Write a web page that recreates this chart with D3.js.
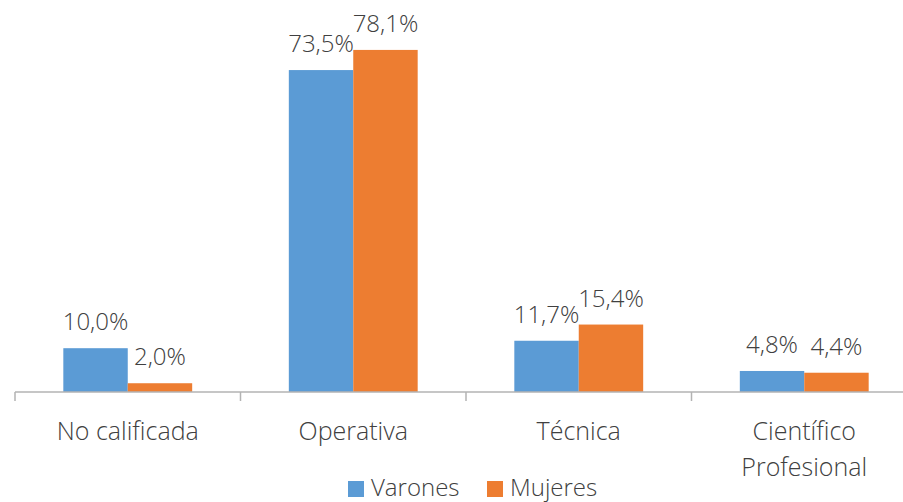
<!DOCTYPE html>
<html>
<head>
<meta charset="utf-8">
<script src="https://cdn.jsdelivr.net/npm/d3@7"></script>
<style>
  html, body { margin: 0; padding: 0; background: #fff; }
  svg text { font-family: "Open Sans", "Noto Sans", sans-serif; font-weight: 300; fill: #404040; }
</style>
</head>
<body>
<svg id="chart" width="903" height="502"></svg>
<script>
const categories = ["No calificada", "Operativa", "Técnica", "Científico Profesional"];
const categoryLines = [["No calificada"], ["Operativa"], ["Técnica"], ["Científico", "Profesional"]];
const seriesNames = ["Varones", "Mujeres"];
const varones = [10.0, 73.5, 11.7, 4.8];
const mujeres = [2.0, 78.1, 15.4, 4.4];
const valueLabelsVarones = ["10,0%", "73,5%", "11,7%", "4,8%"];
const valueLabelsMujeres = ["2,0%", "78,1%", "15,4%", "4,4%"];
const colors = ["#5b9bd5", "#ed7d31"];

const svg = d3.select("#chart");
const baseY = 392;

const x = d3.scaleBand().domain(categories).range([15, 917]).paddingInner(0).paddingOuter(0);
const bw = x.bandwidth();
const inner = d3.scaleBand().domain(seriesNames).range([0, bw]).paddingInner(0).paddingOuter(0.75);
const y = d3.scaleLinear().domain([0, 100]).range([baseY, baseY - 438]);

const series = [varones, mujeres];
const labels = [valueLabelsVarones, valueLabelsMujeres];

seriesNames.forEach((s, si) => {
  svg.append("g").selectAll("rect")
    .data(categories)
    .join("rect")
    .attr("x", (c) => x(c) + inner(s))
    .attr("width", inner.bandwidth())
    .attr("y", (c, i) => y(series[si][i]))
    .attr("height", (c, i) => baseY - y(series[si][i]))
    .attr("fill", colors[si]);

  svg.append("g").selectAll("text")
    .data(categories)
    .join("text")
    .attr("x", (c) => x(c) + inner(s) + inner.bandwidth() / 2)
    .attr("y", (c, i) => y(series[si][i]) - 18)
    .attr("text-anchor", "middle")
    .style("font-size", "24px")
    .text((c, i) => labels[si][i]);
});

// axis
const axisG = svg.append("g").attr("transform", `translate(0,${baseY})`);
axisG.append("line").attr("x1", 15).attr("x2", 917).attr("y1", 0).attr("y2", 0)
  .attr("stroke", "#b3b3b3").attr("stroke-width", 1.5);
const tickPos = categories.map(c => x(c)).concat([x(categories[categories.length-1]) + bw]);
axisG.selectAll("line.tick").data(tickPos).join("line").attr("class", "tick")
  .attr("x1", d => d).attr("x2", d => d).attr("y1", 0).attr("y2", 9)
  .attr("stroke", "#b3b3b3").attr("stroke-width", 1.5);

categories.forEach((c, i) => {
  const t = svg.append("text")
    .attr("text-anchor", "middle")
    .attr("x", x(c) + bw / 2)
    .attr("y", 440)
    .style("font-size", "25px");
  categoryLines[i].forEach((ln, li) => {
    t.append("tspan").attr("x", x(c) + bw / 2).attr("dy", li === 0 ? 0 : 36).text(ln);
  });
});

// legend
const legendX = [348, 487];
seriesNames.forEach((s, si) => {
  svg.append("rect").attr("x", legendX[si]).attr("y", 481).attr("width", 16).attr("height", 16).attr("fill", colors[si]);
  svg.append("text").attr("x", legendX[si] + 23).attr("y", 496).style("font-size", "24px").text(s);
});
</script>
</body>
</html>
